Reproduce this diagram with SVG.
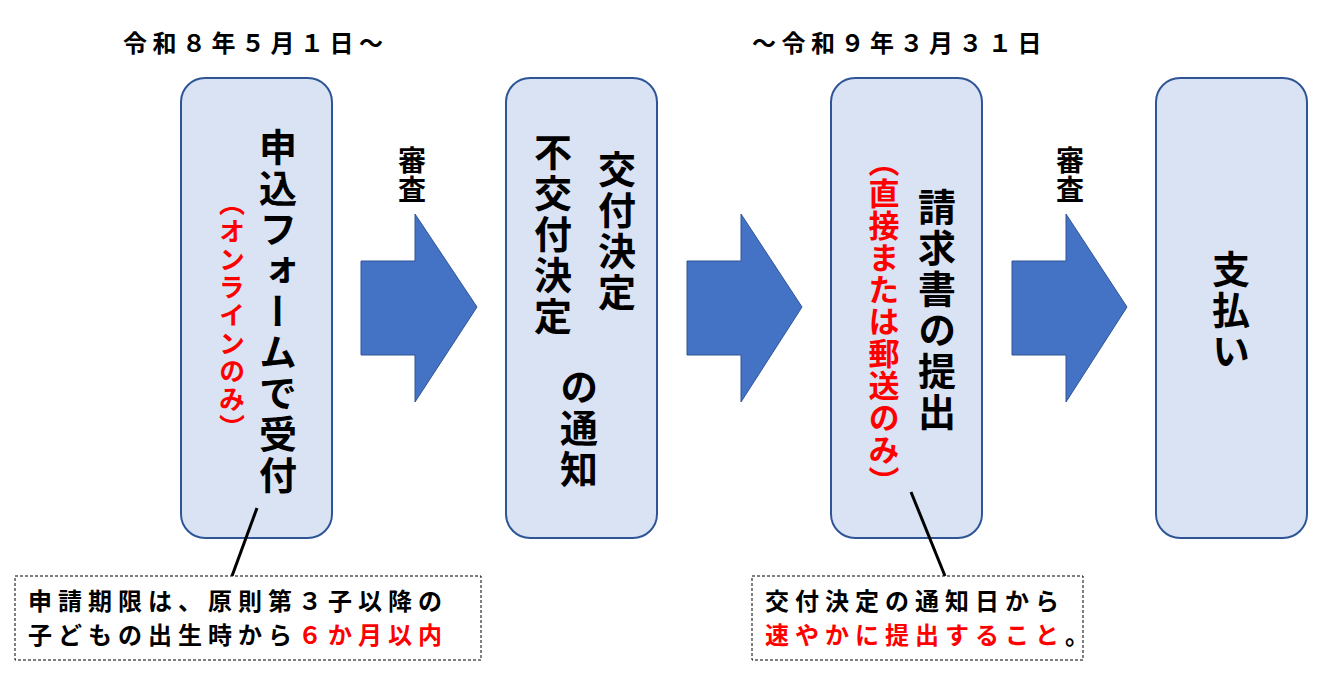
<svg xmlns="http://www.w3.org/2000/svg" width="1330" height="685" viewBox="0 0 1330 685">
<style>
text{font-family:"Noto Sans CJK JP","Noto Sans",sans-serif;font-weight:bold;fill:#000}
.box{fill:#dae3f3;stroke:#2f5597;stroke-width:2}
.arr{fill:#4472c4;stroke:#2f5597;stroke-width:1}
.v{writing-mode:vertical-rl;font-size:38px;letter-spacing:3px}
.vr{writing-mode:vertical-rl;font-size:27px;fill:#f00;letter-spacing:1px}
.note{fill:#fff;stroke:#000;stroke-width:1;stroke-dasharray:3 2}
.nt{font-size:24px;letter-spacing:6px}
.red{fill:#f00}
</style>
<rect width="1330" height="685" fill="#fff"/>
<text x="123" y="52" font-size="24" style="letter-spacing:5.5px">令和８年５月１日～</text>
<text x="752" y="52" font-size="24" style="letter-spacing:5.5px">～令和９年３月３１日</text>
<g id="n1"><rect class="box" x="181" y="78" width="151" height="460" rx="24"/>
<text class="v" x="278" y="128">申込フォームで受付</text>
<text class="vr" x="232" y="190" style="font-size:26px;letter-spacing:2px">（オンラインのみ）</text></g>
<g id="n2"><rect class="box" x="506" y="78" width="151" height="460" rx="24"/>
<text class="v" x="617" y="150">交付決定</text>
<text class="v" x="553" y="133">不交付決定</text>
<text class="v" x="579" y="368">の通知</text></g>
<g id="n3"><rect class="box" x="831" y="78" width="151" height="460" rx="24"/>
<text class="v" x="937" y="188">請求書の提出</text>
<text class="vr" x="884" y="146" style="font-size:31px">（直接または郵送のみ）</text></g>
<g id="n4"><rect class="box" x="1156" y="78" width="151" height="460" rx="24"/>
<text class="v" x="1231" y="250">支払い</text></g>
<g id="connectors">
<polygon class="arr" points="361,261 415,261 415,214 477,307 415,402 415,355 361,355"/>
<polygon class="arr" points="687,261 741,261 741,214 802,307 741,402 741,355 687,355"/>
<polygon class="arr" points="1012,261 1066,261 1066,214 1127,307 1066,402 1066,355 1012,355"/>
<text class="v" x="412" y="146" style="font-size:28px;letter-spacing:1px">審査</text>
<text class="v" x="1070" y="146" style="font-size:28px;letter-spacing:1px">審査</text>
<line x1="257" y1="508" x2="232" y2="576" stroke="#000" stroke-width="3"/>
<line x1="911" y1="492" x2="945" y2="576" stroke="#000" stroke-width="3"/>
</g>
<g id="note1"><rect class="note" x="15" y="576" width="466" height="84"/>
<text class="nt" x="28" y="610">申請期限は、原則第３子以降の</text>
<text class="nt" x="28" y="644">子どもの出生時から<tspan class="red">６か月以内</tspan></text></g>
<g id="note2"><rect class="note" x="752" y="576" width="331" height="84"/>
<text class="nt" x="765" y="610">交付決定の通知日から</text>
<text class="nt" x="765" y="644"><tspan class="red">速やかに提出すること</tspan>。</text></g>
</svg>
